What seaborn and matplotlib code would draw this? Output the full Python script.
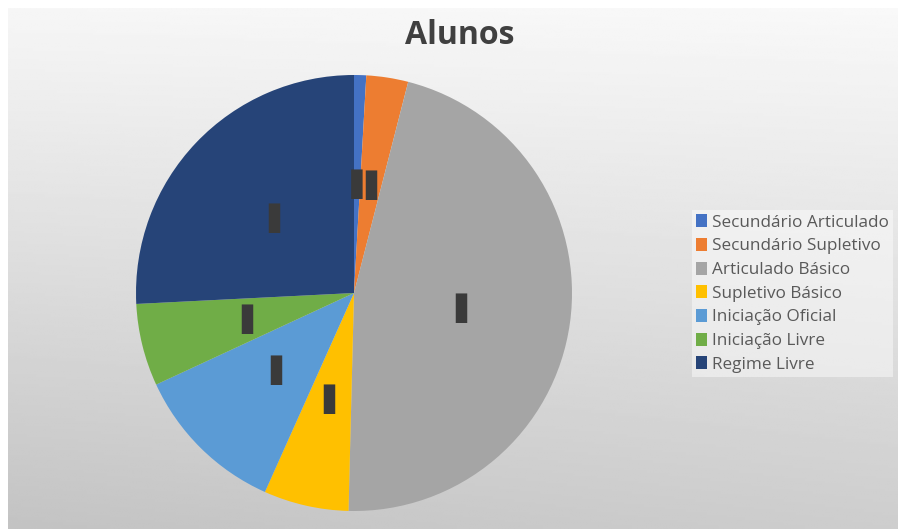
import numpy as np
import matplotlib
matplotlib.use("Agg")
import matplotlib.pyplot as plt
import seaborn as sns

categorias = ["Secundário Articulado", "Secundário Supletivo", "Articulado Básico",
              "Supletivo Básico", "Iniciação Oficial", "Iniciação Livre", "Regime Livre"]
valores = [0.9, 3.1, 46.4, 6.3, 11.4, 6.1, 25.8]
cores = ["#4472C4", "#ED7D31", "#A5A5A5", "#FFC000", "#5B9BD5", "#70AD47", "#264478"]

sns.set_theme(style="white")
plt.rcParams["font.family"] = ["Open Sans", "DejaVu Sans"]

fig = plt.figure(figsize=(8.98, 5.29), dpi=100)
fig.patch.set_facecolor("white")

# fundo em degradê
bg = fig.add_axes([8 / 898, 0, 890 / 898, 521 / 529])
yy, xx = np.mgrid[0:1:200j, 0:1:300j]
grad = 0.965 - 0.17 * yy - 0.03 * (1 - xx) * yy + 0.01 * xx
bg.imshow(grad, cmap="gray", vmin=0, vmax=1, aspect="auto", extent=[0, 1, 0, 1], origin="upper")
bg.axis("off")

ax = fig.add_axes([(354 - 218) / 898, (236 - 218) / 529, 436 / 898, 436 / 529])
wedges, textos, auto = ax.pie(valores, colors=cores, startangle=90, counterclock=False,
                              radius=1, autopct=lambda p: "▌", pctdistance=0.5,
                              wedgeprops=dict(linewidth=0))
for i, t in enumerate(auto):
    t.set_color("#3a3a3a")
    t.set_fontsize(21)
    t.set_fontfamily("DejaVu Sans")
    x, y = t.get_position()
    if i == 0:
        t.set_text("▐")
        t.set_ha("right")
        t.set_position((x + 0.023, y))
    elif i == 1:
        t.set_ha("left")
        t.set_position((x - 0.023, y))
    else:
        t.set_position((x + 0.02, y))
ax.set_xlim(-1, 1)
ax.set_ylim(-1, 1)
ax.set_aspect("equal")
ax.axis("off")

fig.text(460 / 898, 1 - 36 / 529, "Alunos", ha="center", va="center",
         fontsize=23, fontweight="bold", color="#404040")

leg = fig.legend(wedges, categorias, loc="upper left",
                 bbox_to_anchor=(692 / 898, 1 - 210 / 529),
                 fontsize=12.3, frameon=True, handlelength=0.6, handleheight=0.8,
                 handletextpad=0.3, labelspacing=0.42, borderpad=0.25,
                 borderaxespad=0)
leg.get_frame().set_facecolor("white")
leg.get_frame().set_alpha(0.45)
leg.get_frame().set_edgecolor("none")
leg.get_frame().set_boxstyle("square", pad=0)
for t in leg.get_texts():
    t.set_color("#595959")

fig.savefig("out.png", dpi=100)
